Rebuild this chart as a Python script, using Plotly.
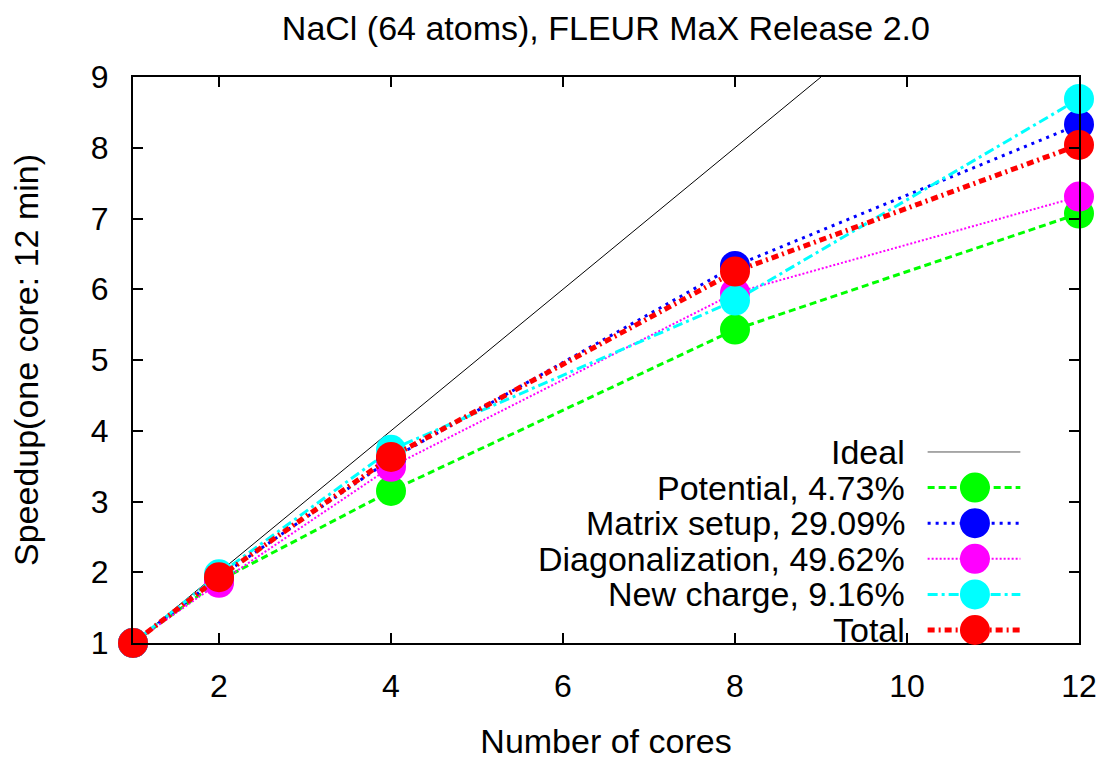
import plotly.graph_objects as go

cores = [1, 2, 4, 8, 12]
ideal_x = [1, 9]
ideal_y = [1, 9]
potential = [1.0, 1.88, 3.15, 5.43, 7.07]
matrix_setup = [1.0, 1.93, 3.60, 6.33, 8.33]
diagonalization = [1.0, 1.85, 3.49, 5.95, 7.31]
new_charge = [1.0, 1.97, 3.73, 5.84, 8.69]
total = [1.0, 1.93, 3.63, 6.25, 8.04]

series = [
    ("Potential, 4.73%", potential, "#00ff00", "7px,4px", 3),
    ("Matrix setup, 29.09%", matrix_setup, "#0000ff", "3px,5px", 3),
    ("Diagonalization, 49.62%", diagonalization, "#ff00ff", "2px,2px", 2),
    ("New charge, 9.16%", new_charge, "#00ffff", "10px,4px,3px,4px", 3),
    ("Total", total, "#ff0000", "7px,4px,2px,4px", 5),
]

FONT = "Liberation Sans, Arial, sans-serif"
TXT = 34
TICK = 32

fig = go.Figure()
fig.add_trace(go.Scatter(x=ideal_x, y=ideal_y, mode="lines", name="Ideal",
                         line=dict(color="black", width=1), cliponaxis=True,
                         showlegend=False))
for name, vals, color, dash, w in series:
    fig.add_trace(go.Scatter(x=cores, y=vals, mode="lines+markers", name=name,
                             line=dict(color=color, width=w, dash=dash),
                             marker=dict(color=color, size=30, symbol="circle"),
                             cliponaxis=False, showlegend=False))

# gnuplot-style key: right-aligned text, sample to the right
key_rows = [("Ideal", "black", "solid", 1, False)] + [(n, c, d, w, True) for n, _, c, d, w in series]
top_y, row_h = 0.3375, 0.0629
text_x, line_x0, line_x1, mark_x = 0.818, 0.840, 0.938, 0.890
for i, (name, color, dash, w, has_marker) in enumerate(key_rows):
    yy = top_y - i * row_h
    fig.add_annotation(x=text_x, y=yy, xref="paper", yref="paper", text=name,
                       showarrow=False, xanchor="right", yanchor="middle",
                       font=dict(family=FONT, size=TXT, color="black"))
    fig.add_shape(type="line", xref="paper", yref="paper", x0=line_x0, x1=line_x1,
                  y0=yy, y1=yy, line=dict(color=color if has_marker else "#555555",
                                          width=w, dash=dash))
    if has_marker:
        fig.add_shape(type="circle", xref="paper", yref="paper",
                      xsizemode="pixel", ysizemode="pixel",
                      xanchor=mark_x, yanchor=yy, x0=-15, x1=15, y0=-15, y1=15,
                      fillcolor=color, line=dict(width=0))

axis_common = dict(showgrid=False, zeroline=False, showline=True, linecolor="black",
                   linewidth=2, mirror="allticks", ticks="inside", ticklen=10,
                   tickwidth=1.5, tickcolor="black", automargin=False,
                   tickfont=dict(family=FONT, size=TICK, color="black"))
fig.update_layout(
    width=1120, height=760,
    margin=dict(l=133, r=41, t=77, b=117),
    paper_bgcolor="white", plot_bgcolor="white",
    title=dict(text="NaCl (64 atoms), FLEUR MaX Release 2.0", x=0.541, xanchor="center",
               y=0.963, yanchor="middle", font=dict(family=FONT, size=TXT, color="black")),
    xaxis=dict(range=[1, 12], tickvals=[2, 4, 6, 8, 10, 12], ticklabelstandoff=14,
               title=dict(text="Number of cores", font=dict(family=FONT, size=TXT, color="black"), standoff=28),
               **axis_common),
    yaxis=dict(range=[1, 9], tickvals=list(range(1, 10)), ticklabelstandoff=16,
               title=dict(text="Speedup(one core: 12 min)", font=dict(family=FONT, size=TXT, color="black"), standoff=42),
               **axis_common),
    showlegend=False,
)
fig.write_html("out.html")
